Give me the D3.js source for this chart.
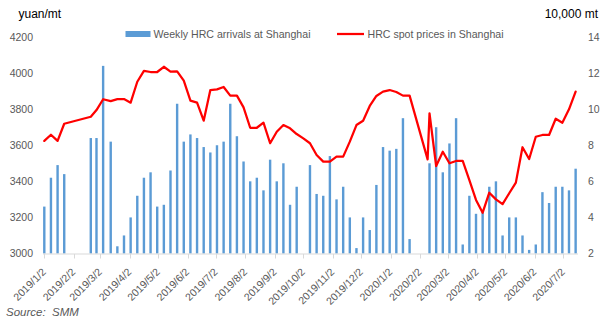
<!DOCTYPE html>
<html>
<head>
<meta charset="utf-8">
<script src="https://cdn.jsdelivr.net/npm/d3@7"></script>
<style>
  html, body { margin: 0; padding: 0; background: #fff; }
  svg { display: block; font-family: "Liberation Sans", Arial, sans-serif; }
</style>
</head>
<body>
<svg id="chart" width="610" height="322"></svg>
<script>
// ---- data ----
const arrivalDates = ["2019-01-02","2019-01-09","2019-01-16","2019-01-23","2019-02-20","2019-02-26","2019-03-05","2019-03-13","2019-03-20","2019-03-27","2019-04-03","2019-04-10","2019-04-17","2019-04-24","2019-05-01","2019-05-08","2019-05-15","2019-05-22","2019-05-29","2019-06-05","2019-06-12","2019-06-19","2019-06-26","2019-07-03","2019-07-10","2019-07-17","2019-07-24","2019-07-31","2019-08-07","2019-08-14","2019-08-21","2019-08-28","2019-09-04","2019-09-11","2019-09-18","2019-09-25","2019-10-09","2019-10-16","2019-10-23","2019-10-30","2019-11-06","2019-11-13","2019-11-20","2019-11-27","2019-12-04","2019-12-11","2019-12-18","2019-12-25","2020-01-01","2020-01-08","2020-01-15","2020-01-22","2020-02-12","2020-02-19","2020-02-26","2020-03-04","2020-03-11","2020-03-18","2020-03-25","2020-04-01","2020-04-08","2020-04-15","2020-04-22","2020-04-29","2020-05-06","2020-05-13","2020-05-20","2020-05-27","2020-06-03","2020-06-10","2020-06-17","2020-06-24","2020-07-01","2020-07-08","2020-07-15"];
const arrivals = [4.6,6.2,6.9,6.4,8.4,8.4,12.4,8.2,2.4,3.0,4.0,5.2,6.2,6.5,4.6,4.7,6.6,10.3,8.2,8.6,8.4,7.9,7.6,8.0,8.2,10.3,8.5,7.1,6.0,6.2,5.5,7.2,6.0,7.0,4.7,5.7,6.9,5.3,5.2,7.4,5.0,5.7,4.0,2.3,4.0,3.3,5.8,7.9,7.7,7.8,9.5,2.8,7.0,9.0,6.5,8.1,9.5,2.5,5.2,4.2,4.3,5.7,6.0,3.0,4.0,4.0,3.0,2.2,2.5,5.4,4.8,5.7,5.7,5.5,6.7];

const priceDates = ["2019-01-02","2019-01-09","2019-01-16","2019-01-23","2019-02-20","2019-02-26","2019-03-05","2019-03-13","2019-03-20","2019-03-27","2019-04-03","2019-04-10","2019-04-17","2019-04-24","2019-05-01","2019-05-08","2019-05-15","2019-05-22","2019-05-29","2019-06-05","2019-06-12","2019-06-19","2019-06-26","2019-07-03","2019-07-10","2019-07-17","2019-07-24","2019-07-31","2019-08-07","2019-08-14","2019-08-21","2019-08-28","2019-09-04","2019-09-11","2019-09-18","2019-09-25","2019-10-02","2019-10-09","2019-10-16","2019-10-23","2019-10-30","2019-11-06","2019-11-13","2019-11-20","2019-11-27","2019-12-04","2019-12-11","2019-12-18","2019-12-25","2020-01-01","2020-01-08","2020-01-15","2020-01-22","2020-02-10","2020-02-12","2020-02-19","2020-02-26","2020-03-04","2020-03-11","2020-03-18","2020-03-25","2020-04-01","2020-04-08","2020-04-15","2020-04-22","2020-04-29","2020-05-06","2020-05-13","2020-05-20","2020-05-27","2020-06-03","2020-06-10","2020-06-17","2020-06-24","2020-07-01","2020-07-08","2020-07-15"];
const prices = [3624,3658,3624,3719,3758,3795,3855,3845,3856,3856,3836,3952,4012,4006,4006,4035,4008,4010,3958,3847,3836,3736,3906,3910,3923,3875,3875,3810,3697,3697,3725,3611,3675,3712,3694,3662,3638,3611,3546,3509,3509,3537,3537,3620,3712,3736,3818,3873,3897,3906,3895,3875,3875,3522,3777,3485,3564,3500,3513,3513,3407,3297,3226,3337,3300,3274,3334,3393,3589,3524,3647,3657,3657,3747,3725,3799,3897];

const monthTicks = ["2019-01-02","2019-02-02","2019-03-02","2019-04-02","2019-05-02","2019-06-02","2019-07-02","2019-08-02","2019-09-02","2019-10-02","2019-11-02","2019-12-02","2020-01-02","2020-02-02","2020-03-02","2020-04-02","2020-05-02","2020-06-02","2020-07-02"];
const leftTicks = [3000,3200,3400,3600,3800,4000,4200];
const rightTicks = [2,4,6,8,10,12,14];

const seriesNames = ["Weekly HRC arrivals at Shanghai", "HRC spot prices in Shanghai"];
const leftTitle = "yuan/mt";
const rightTitle = "10,000 mt";
const sourceText = "Source:  SMM";

// ---- drawing ----
const parse = d3.utcParse("%Y-%m-%d");
const svg = d3.select("#chart");
const gray = "#595959";
const barColor = "#5b9bd5";
const lineColor = "#ff0000";

const x = d3.scaleUtc()
  .domain([parse("2019-01-02"), parse("2020-07-02")])
  .range([44.3, 563.3]);
const yL = d3.scaleLinear().domain([3000, 4200]).range([253.5, 37]);
const yR = d3.scaleLinear().domain([2, 14]).range([253.5, 37]);

const axisY = 253.5;
const xStart = 43, xEnd = 578;

// bars
const barData = arrivalDates.map((d, i) => ({ date: parse(d), v: arrivals[i] }));
const bw = 2.4;
svg.append("g").selectAll("rect").data(barData).join("rect")
  .attr("x", d => x(d.date) - bw / 2)
  .attr("width", bw)
  .attr("y", d => yR(d.v))
  .attr("height", d => yR(2) - yR(d.v))
  .attr("fill", barColor);

// x axis line + ticks
svg.append("line")
  .attr("x1", xStart).attr("x2", xEnd)
  .attr("y1", axisY + 0.5).attr("y2", axisY + 0.5)
  .attr("stroke", "#d9d9d9").attr("stroke-width", 1);

const tickDates = monthTicks.map(parse);
svg.append("g").selectAll("line").data(tickDates).join("line")
  .attr("x1", d => Math.round(x(d)) + 0.5).attr("x2", d => Math.round(x(d)) + 0.5)
  .attr("y1", axisY + 0.5).attr("y2", axisY + 5)
  .attr("stroke", "#d9d9d9").attr("stroke-width", 1);

const fmt = d3.utcFormat("%Y/%-m/%-d");
svg.append("g").selectAll("text").data(tickDates).join("text")
  .attr("transform", d => `translate(${x(d) + 2.4},${272.5}) rotate(-45)`)
  .attr("text-anchor", "end")
  .attr("font-size", "10.5px")
  .attr("fill", gray)
  .text(d => fmt(d));

// left axis labels
svg.append("g").selectAll("text").data(leftTicks).join("text")
  .attr("x", 33).attr("y", d => yL(d))
  .attr("dy", "0.35em")
  .attr("text-anchor", "end")
  .attr("font-size", "10.5px")
  .attr("fill", gray)
  .text(d => d);

// right axis labels
svg.append("g").selectAll("text").data(rightTicks).join("text")
  .attr("x", 588).attr("y", d => yR(d))
  .attr("dy", "0.35em")
  .attr("text-anchor", "start")
  .attr("font-size", "10.5px")
  .attr("fill", gray)
  .text(d => d);

// price line
const lineData = priceDates.map((d, i) => ({ date: parse(d), v: prices[i] }));
const line = d3.line().x(d => x(d.date)).y(d => yL(d.v));
svg.append("path")
  .datum(lineData)
  .attr("d", line)
  .attr("fill", "none")
  .attr("stroke", lineColor)
  .attr("stroke-width", 2.25)
  .attr("stroke-linejoin", "round")
  .attr("stroke-linecap", "round");

// titles
svg.append("text").attr("x", 18.5).attr("y", 17.5)
  .attr("font-size", "12px").attr("fill", "#000").text(leftTitle);
svg.append("text").attr("x", 598).attr("y", 17.5).attr("text-anchor", "end")
  .attr("font-size", "12px").attr("fill", "#000").text(rightTitle);

// legend
const lg = svg.append("g");
lg.append("rect").attr("x", 125.5).attr("y", 31).attr("width", 25).attr("height", 6).attr("fill", barColor);
lg.append("text").attr("x", 153.5).attr("y", 34).attr("dy", "0.35em")
  .attr("font-size", "10.6px").attr("fill", gray).text(seriesNames[0]);
lg.append("line").attr("x1", 337).attr("x2", 364).attr("y1", 34).attr("y2", 34)
  .attr("stroke", lineColor).attr("stroke-width", 2.25);
lg.append("text").attr("x", 367.5).attr("y", 34).attr("dy", "0.35em")
  .attr("font-size", "10.6px").attr("fill", gray).text(seriesNames[1]);

// source
svg.append("text").attr("x", 6).attr("y", 316)
  .attr("font-size", "11.5px").attr("font-style", "italic")
  .attr("fill", gray).style("white-space", "pre").text(sourceText);
</script>
</body>
</html>
